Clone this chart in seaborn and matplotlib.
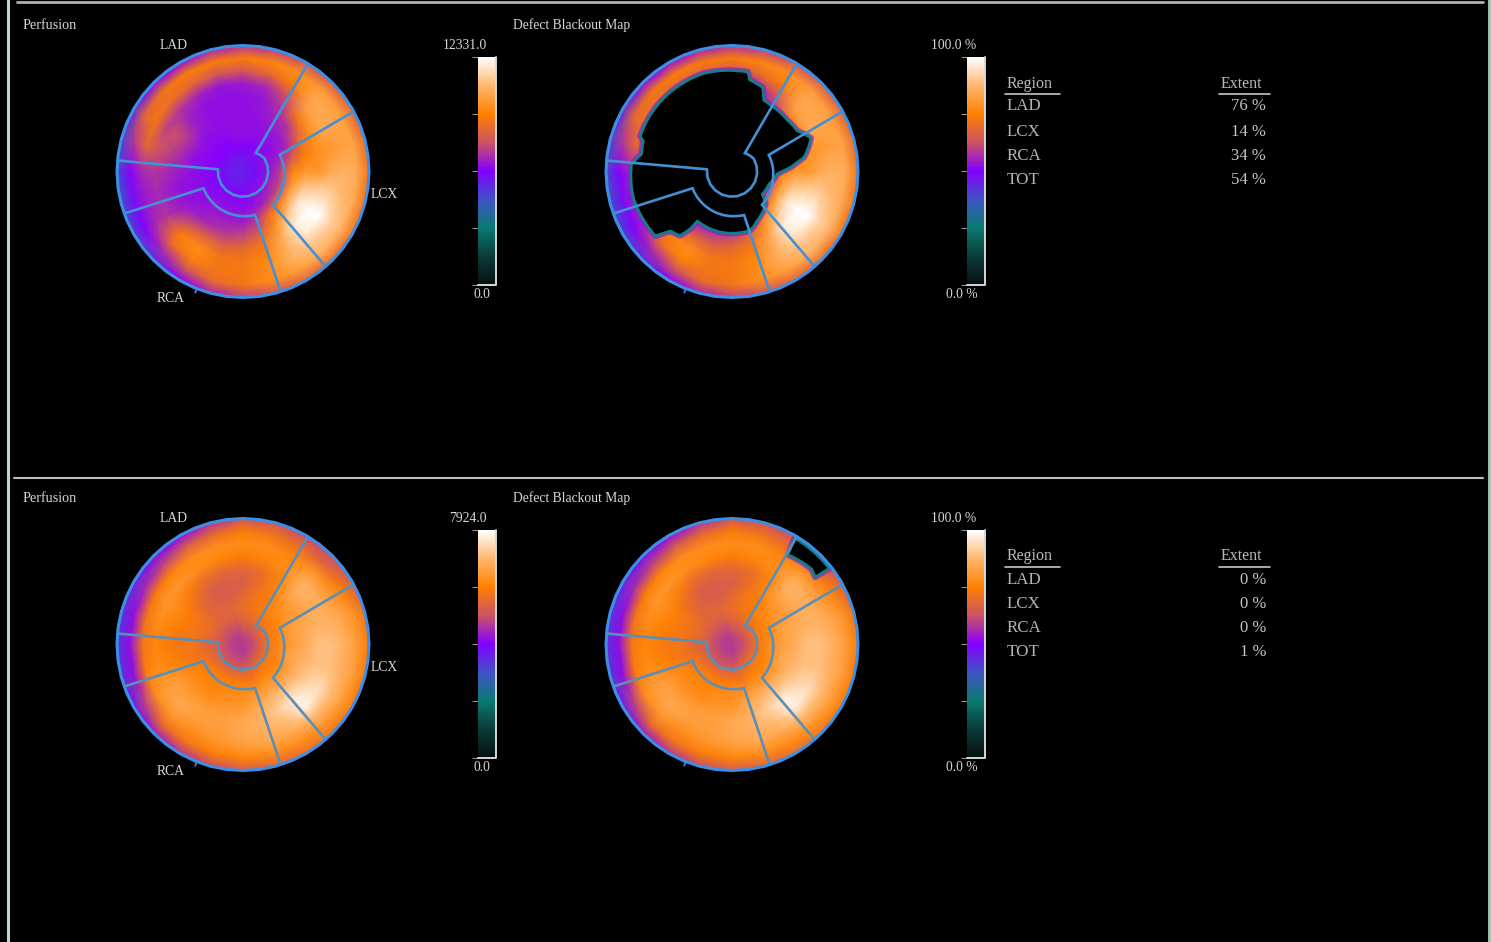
import numpy as np
import pandas as pd
import matplotlib
matplotlib.use('Agg')
import matplotlib.pyplot as plt
import seaborn as sns
from matplotlib.colors import LinearSegmentedColormap
from matplotlib.projections.polar import PolarAxes
from matplotlib.transforms import Affine2D

W, H = 1491, 942

# sectors go clockwise from the top, rings from the centre out
angles = list(range(0, 360, 15))
rings = [0.0, 0.1, 0.2, 0.3, 0.4, 0.5, 0.6, 0.7, 0.8, 0.9, 1.0]

# percent of the colour scale, one list per sector
rest_map = [
    [45, 46, 50, 52, 52, 52, 52, 54, 64, 74, 58],
    [45, 47, 50, 52, 52, 53, 53, 56, 68, 76, 60],
    [45, 48, 51, 52, 53, 55, 58, 64, 74, 78, 64],
    [45, 48, 51, 52, 54, 58, 72, 82, 84, 82, 66],
    [45, 48, 52, 53, 56, 68, 78, 84, 84, 82, 68],
    [45, 48, 52, 56, 66, 74, 78, 80, 82, 83, 70],
    [45, 48, 52, 60, 76, 80, 80, 84, 86, 85, 72],
    [45, 48, 53, 60, 80, 90, 92, 92, 88, 85, 72],
    [45, 48, 53, 60, 82, 96, 100, 100, 92, 87, 72],
    [45, 48, 52, 58, 76, 90, 98, 96, 90, 86, 70],
    [45, 48, 52, 55, 70, 78, 84, 86, 86, 82, 68],
    [45, 47, 51, 53, 58, 66, 72, 76, 78, 78, 64],
    [45, 47, 50, 52, 54, 60, 68, 72, 73, 72, 60],
    [45, 46, 50, 52, 54, 58, 66, 72, 72, 70, 56],
    [45, 46, 49, 52, 54, 57, 68, 78, 76, 64, 50],
    [45, 46, 49, 52, 53, 55, 64, 74, 70, 56, 44],
    [45, 46, 49, 51, 52, 53, 55, 58, 56, 50, 40],
    [45, 46, 49, 51, 52, 52, 54, 56, 54, 48, 38],
    [45, 46, 49, 51, 52, 54, 56, 58, 56, 50, 38],
    [45, 46, 49, 51, 52, 56, 60, 64, 68, 58, 40],
    [45, 46, 50, 51, 53, 58, 62, 60, 72, 68, 44],
    [45, 46, 50, 51, 52, 54, 55, 58, 70, 72, 48],
    [45, 46, 50, 51, 52, 52, 52, 55, 68, 74, 52],
    [45, 46, 50, 52, 52, 52, 52, 53, 64, 74, 56],
]

stress_map = [
    [58, 62, 68, 70, 68, 66, 68, 74, 78, 74, 64],
    [58, 62, 68, 72, 72, 70, 70, 76, 78, 72, 64],
    [58, 63, 70, 74, 74, 76, 76, 78, 76, 70, 62],
    [58, 63, 70, 76, 78, 82, 86, 86, 80, 68, 62],
    [58, 63, 72, 76, 80, 82, 85, 85, 80, 74, 66],
    [58, 63, 72, 77, 82, 84, 86, 86, 84, 80, 72],
    [58, 63, 72, 78, 82, 85, 89, 89, 86, 82, 74],
    [58, 63, 72, 78, 84, 86, 89, 89, 86, 82, 74],
    [58, 63, 72, 76, 82, 88, 92, 94, 88, 82, 74],
    [58, 62, 72, 76, 82, 90, 97, 98, 88, 80, 72],
    [58, 62, 70, 76, 82, 88, 92, 88, 84, 78, 70],
    [58, 60, 68, 72, 80, 84, 86, 86, 84, 78, 68],
    [58, 60, 66, 74, 78, 80, 84, 84, 82, 76, 66],
    [58, 60, 66, 74, 78, 80, 82, 82, 80, 74, 62],
    [58, 60, 66, 74, 76, 78, 82, 82, 78, 72, 58],
    [58, 60, 66, 74, 76, 78, 82, 84, 80, 70, 54],
    [58, 60, 66, 72, 76, 78, 82, 82, 78, 60, 46],
    [58, 60, 66, 70, 72, 74, 76, 78, 74, 52, 42],
    [58, 60, 66, 68, 72, 72, 74, 76, 72, 52, 42],
    [58, 60, 66, 70, 72, 74, 76, 78, 72, 52, 42],
    [58, 60, 66, 70, 72, 74, 78, 80, 74, 56, 44],
    [58, 60, 66, 68, 68, 70, 74, 80, 76, 60, 48],
    [58, 60, 66, 68, 66, 66, 70, 78, 78, 66, 52],
    [58, 60, 66, 68, 66, 66, 68, 76, 78, 70, 58],
]

# blacked out area, angle in degrees and radius as a fraction of the map
defect_top_deg = [3, 9, 11, 20, 24, 30, 47, 58, 67, 72, 79, 86, 93, 109, 127, 134, 153, 163,
                  191, 215, 216, 219, 226, 230, 241, 255, 274, 281, 289, 291, 308, 327, 344, 363]
defect_top_r = [.80, .80, .74, .71, .62, .61, .60, .61, .68, .64, .58, .465, .36, .31, .30, .37, .44, .49,
                .49, .48, .56, .655, .68, .795, .80, .81, .80, .73, .745, .78, .79, .80, .81, .80]
defect_bot_deg = [30.5, 32, 46.5, 51, 52, 30.5]
defect_bot_r = [.98, .84, .87, .85, .98, .98]

# vessel territory borders
lad_deg = [31, 35, 60, 275, 275]
lad_r = [1.0, .178, .2, .2, 1.0]
lcx_deg = [61.5, 65.7, 100, 138, 139]
lcx_r = [1.0, .32, .33, .355, 1.0]
rca_deg = [162.6, 164.5, 200, 247, 250.5]
rca_r = [1.0, .358, .35, .34, 1.0]

scale_ticks = [0, 25, 50, 75, 100]
regions = ['LAD', 'LCX', 'RCA', 'TOT']
region_y = [105, 130, 154, 178]
extent_top = ['76 %', '14 %', '34 %', '54 %']
extent_bot = ['0 %', '0 %', '0 %', '1 %']

cmap = LinearSegmentedColormap.from_list('cardiac', [
    (0.00, '#061010'), (0.13, '#0a3d3a'), (0.25, '#0a7a72'), (0.37, '#3c55c4'),
    (0.50, '#8400ff'), (0.62, '#c8506a'), (0.75, '#ff8000'), (0.87, '#ffb468'), (1.00, '#ffffff')])

sns.set_theme(style='dark')
plt.rcParams['font.family'] = ['Liberation Serif', 'DejaVu Serif']

fig = plt.figure(figsize=(W / 100, H / 100), dpi=100, facecolor='black')

# whole figure layer in pixel coordinates for frame and labels
bg = fig.add_axes([0, 0, 1, 1])
bg.set_xlim(0, W)
bg.set_ylim(H, 0)
bg.axis('off')
bg.plot([8, 8], [0, H], color='#b4dccb', lw=2.2)
bg.plot([1489.5, 1489.5], [0, H], color='#9cc9b6', lw=3.5)
bg.plot([17, 1483], [2, 2], color='#b0b0b0', lw=2)
bg.plot([14, 1483], [478, 478], color='#c0c0c0', lw=1.5)

polar = PolarAxes.PolarTransform(apply_theta_transforms=False)


def polar_xy(deg, r):
    # arcs need more vertices, long radial runs stay straight
    px, py = [], []
    for i in range(len(deg) - 1):
        steps = 12 if abs(r[i + 1] - r[i]) < 0.1 else 1
        d = np.linspace(deg[i], deg[i + 1], steps, endpoint=False)
        q = np.linspace(r[i], r[i + 1], steps, endpoint=False)
        t = np.radians(90 - d)
        px.extend(q * np.cos(t))
        py.extend(q * np.sin(t))
    t = np.radians(90 - deg[-1])
    px.append(r[-1] * np.cos(t))
    py.append(r[-1] * np.sin(t))
    return px, py


def draw_map(values, cx, cy, cbar_px, defect=None):
    half = 132
    ax = fig.add_axes([(cx - half) / W, 1 - (cy + half) / H, 2 * half / W, 2 * half / H])
    cax = fig.add_axes([cbar_px[0] / W, 1 - cbar_px[2] / H,
                        (cbar_px[1] - cbar_px[0]) / W, (cbar_px[2] - cbar_px[3]) / H])
    grid = pd.DataFrame(np.array(values).T, index=rings, columns=angles)
    grid[360] = grid[0]  # close the ring

    to_polar = Affine2D().scale(-np.radians(15), 0.1).translate(np.pi / 2, 0) + polar + ax.transData
    sns.heatmap(grid, ax=ax, cmap=cmap, vmin=0, vmax=100, shading='gouraud', transform=to_polar,
                xticklabels=False, yticklabels=False, cbar_ax=cax,
                cbar_kws={'ticks': scale_ticks})
    ax.set_xlabel('')
    ax.set_ylabel('')
    ax.set_xlim(-half / 126, half / 126)
    ax.set_ylim(-half / 126, half / 126)
    ax.set_aspect('equal')
    ax.axis('off')

    # colour bar frame and ticks
    cax.yaxis.set_ticks_position('left')
    cax.tick_params(left=True, length=4, width=0.8, color='#909090', labelleft=False)
    for name, sp in cax.spines.items():
        sp.set_visible(False)
    cax.plot([1, 1, 0], [100, 0, 0], color='#d8d8d8', lw=1.4, transform=cax.get_yaxis_transform(), clip_on=False)

    if defect is not None:
        dx, dy = polar_xy(defect[0], defect[1])
        ax.fill(dx, dy, facecolor='none', edgecolor='#7a20e0', lw=4.5, alpha=0.65, joinstyle='round')
        ax.fill(dx, dy, facecolor='black', edgecolor='#137f85', lw=2, joinstyle='round')

    # territory outlines and rim
    line_col = '#4590d2' if cy < H / 2 else '#5a8fb8'
    for deg, r in [(lad_deg, lad_r), (lcx_deg, lcx_r), (rca_deg, rca_r)]:
        lx, ly = polar_xy(deg, r)
        ax.plot(lx, ly, color=line_col, lw=1.9, solid_joinstyle='miter')
    rim_x, rim_y = polar_xy([0, 90, 180, 270, 360], [1, 1, 1, 1, 1])
    ax.plot(rim_x, rim_y, color='#3f8ee6', lw=2.2)
    tick_x, tick_y = polar_xy([201.5, 201.5], [1.0, 1.035])
    ax.plot(tick_x, tick_y, color='#3f8ee6', lw=1.2)


def label(x, y, s, size=9.8, color='#d6d6d6', ha='left'):
    bg.text(x, y + 1.5, s, fontsize=size, color=color, ha=ha, va='center')


def panel(dy, rest, scale_max, extents, defect):
    label(23, 24 + dy, 'Perfusion', size=10.2)
    label(513, 24 + dy, 'Defect Blackout Map')
    label(160, 44 + dy, 'LAD')
    label(371, 193 + dy, 'LCX')
    label(157, 297 + dy, 'RCA')
    label(487, 44 + dy, scale_max, ha='right')
    label(474, 293 + dy, '0.0')
    label(976, 44 + dy, '100.0 %', ha='right')
    label(978, 293 + dy, '0.0 %', ha='right')

    draw_map(rest, 243, 171.5 + dy, (478, 496, 285 + dy, 57 + dy))
    draw_map(rest, 732, 171.5 + dy, (967, 985, 285 + dy, 57 + dy), defect=defect)

    label(1007, 82 + dy, 'Region', size=11.5, color='#b8b8b8')
    label(1221, 82 + dy, 'Extent', size=11.5, color='#b8b8b8')
    bg.plot([1005, 1060], [93.5 + dy, 93.5 + dy], color='#c8c8c8', lw=1.2)
    bg.plot([1219, 1270], [93.5 + dy, 93.5 + dy], color='#c8c8c8', lw=1.2)
    for reg, ext, y in zip(regions, extents, region_y):
        label(1007, y + dy, reg, size=12.2, color='#b4b4b4')
        label(1266, y + dy, ext, size=12, color='#c4c4c4', ha='right')


panel(0, rest_map, '12331.0', extent_top, (defect_top_deg, defect_top_r))
panel(473, stress_map, '7924.0', extent_bot, (defect_bot_deg, defect_bot_r))

fig.savefig('out.png', dpi=100, facecolor='black')
